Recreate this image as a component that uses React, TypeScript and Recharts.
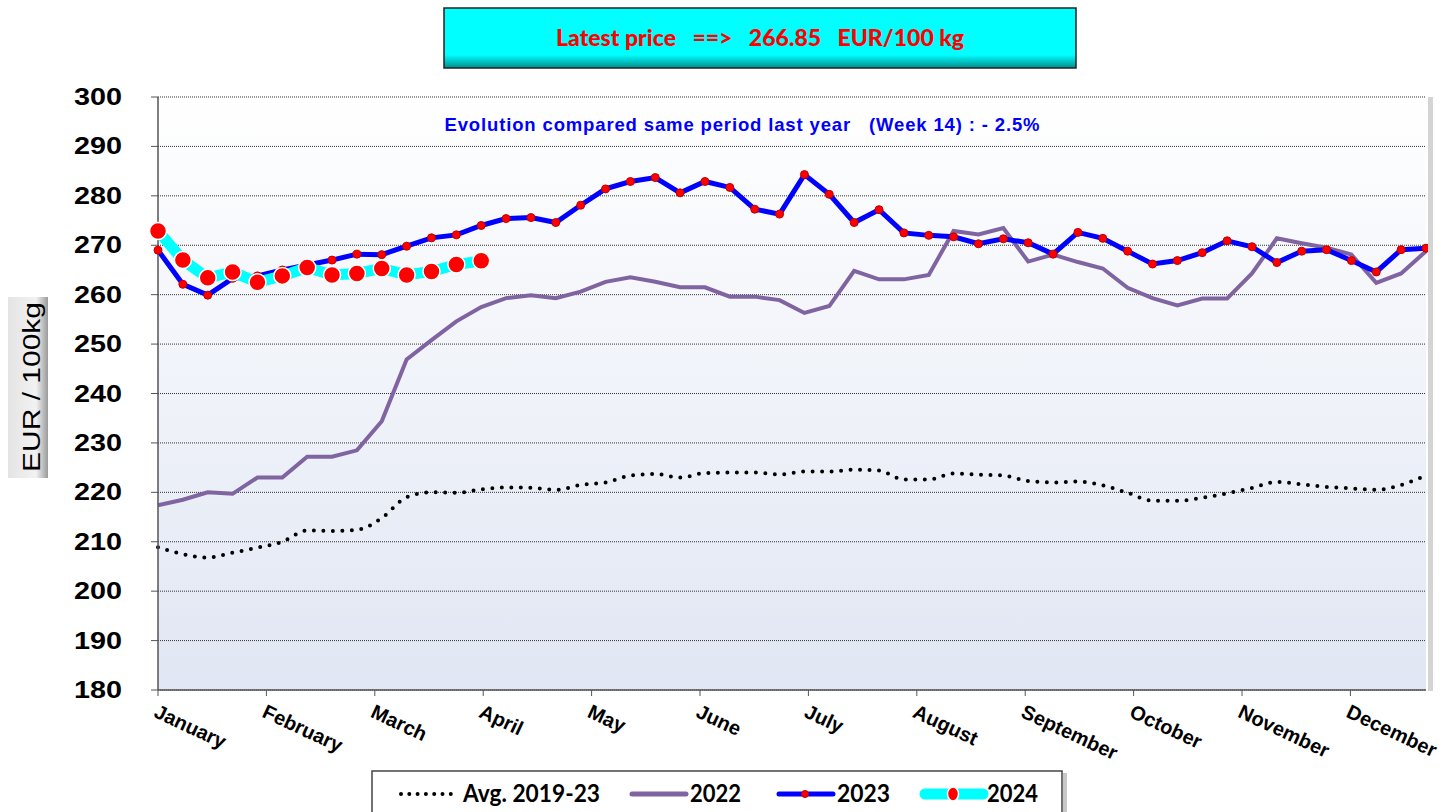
import { LineChart, Line, XAxis, YAxis, CartesianGrid } from 'recharts';

// weekly prices, EUR/100kg
const WEEKS = Array.from({ length: 52 }, (_, i) => i + 1);

const AVG_2019_23 = [
  208.9, 207.5, 206.8, 207.8, 208.8, 210.0, 212.3, 212.2, 212.4, 214.8,
  219.0, 220.0, 219.9, 220.6, 221.0, 220.9, 220.5, 221.5, 222.0, 223.4,
  223.7, 223.0, 223.9, 224.0, 224.0, 223.6, 224.2, 224.2, 224.6, 224.4,
  222.6, 222.6, 223.8, 223.6, 223.4, 222.3, 222.0, 222.2, 221.4, 219.9,
  218.3, 218.3, 218.9, 219.8, 220.9, 222.1, 221.6, 221.1, 220.8, 220.5,
  221.5, 223.4,
];

const PRICES_2022 = [
  217.4, 218.5, 220.0, 219.7, 223.0, 223.0, 227.2, 227.2, 228.5, 234.4,
  246.9, 250.8, 254.6, 257.5, 259.3, 259.9, 259.3, 260.6, 262.6, 263.5,
  262.6, 261.5, 261.5, 259.6, 259.6, 258.9, 256.3, 257.7, 264.8, 263.1,
  263.1, 264.0, 272.9, 272.2, 273.5, 266.7, 268.1, 266.6, 265.3, 261.4,
  259.3, 257.8, 259.2, 259.2, 264.3, 271.4, 270.4, 269.5, 268.1, 262.4,
  264.3, 268.8,
];

const PRICES_2023 = [
  269.0, 262.1, 259.9, 263.3, 263.8, 265.0, 266.0, 267.0, 268.2, 268.1,
  269.8, 271.5, 272.1, 274.0, 275.4, 275.6, 274.6, 278.1, 281.4, 282.9,
  283.7, 280.6, 282.9, 281.7, 277.3, 276.3, 284.3, 280.3, 274.6, 277.2,
  272.5, 272.0, 271.7, 270.3, 271.3, 270.5, 268.2, 272.6, 271.4, 268.8,
  266.2, 266.9, 268.5, 270.9, 269.7, 266.5, 268.8, 269.1, 266.9, 264.6,
  269.1, 269.4,
];

const PRICES_2024 = [
  272.9, 267.0, 263.4, 264.6, 262.5, 263.8, 265.5, 264.0, 264.3, 265.3,
  264.0, 264.7, 266.1, 266.85,
];

const MONTHS = [
  'January', 'February', 'March', 'April', 'May', 'June',
  'July', 'August', 'September', 'October', 'November', 'December',
];
const MONTH_TICKS = MONTHS.map((_, i) => 1 + i * 4.36);

const Y_TICKS = [180, 190, 200, 210, 220, 230, 240, 250, 260, 270, 280, 290, 300];

const rows = WEEKS.map((week, i) => ({
  week,
  avg: AVG_2019_23[i],
  y2022: PRICES_2022[i],
  y2023: PRICES_2023[i],
  y2024: i < PRICES_2024.length ? PRICES_2024[i] : null,
}));

const ARIAL = '"Liberation Sans", Arial, sans-serif';
const CALIBRI = 'Lato, "Open Sans", sans-serif';

function MonthTick({ x, y, payload }: any) {
  const idx = MONTH_TICKS.indexOf(payload.value);
  return (
    <g transform={`translate(${x + 1},${y + 5})`}>
      <text
        transform="rotate(25)"
        x={0}
        y={15}
        fontFamily={ARIAL}
        fontWeight="bold"
        fontSize={20}
        fill="#000"
      >
        {MONTHS[idx]}
      </text>
    </g>
  );
}

function PriceTick({ x, y, payload }: any) {
  return (
    <text
      x={x}
      y={y + 8}
      textAnchor="end"
      fontFamily={ARIAL}
      fontWeight="bold"
      fontSize={23}
      textLength={48}
      lengthAdjust="spacingAndGlyphs"
      fill="#000"
    >
      {payload.value}
    </text>
  );
}

export default function App() {
  return (
    <div style={{ position: 'absolute', left: 0, top: 0, width: 1455, height: 812, background: '#fff' }}>
      <LineChart
        width={1455}
        height={812}
        data={rows}
        margin={{ top: 97, right: 29, bottom: 62, left: 98 }}
      >
        <defs>
          <linearGradient id="plotBg" x1="0" y1="0" x2="0" y2="1">
            <stop offset="0%" stopColor="#ffffff" />
            <stop offset="100%" stopColor="#e0e6f3" />
          </linearGradient>
        </defs>
        <CartesianGrid
          vertical={false}
          stroke="#333"
          strokeDasharray="1 1"
          fill="url(#plotBg)"
          fillOpacity={1}
        />
        <XAxis
          dataKey="week"
          type="number"
          domain={[1, 52]}
          ticks={MONTH_TICKS}
          interval={0}
          height={60}
          tickSize={6}
          tick={<MonthTick />}
          axisLine={{ stroke: '#555', strokeWidth: 1.5 }}
          tickLine={{ stroke: '#555' }}
        />
        <YAxis
          domain={[180, 300]}
          ticks={Y_TICKS}
          interval={0}
          width={60}
          tickSize={7}
          tickMargin={29}
          tick={<PriceTick />}
          axisLine={{ stroke: '#555', strokeWidth: 1.5 }}
          tickLine={{ stroke: '#555' }}
        />
        <Line
          dataKey="avg"
          type="monotone"
          stroke="#000"
          strokeWidth={4}
          strokeDasharray="0 9.5"
          strokeLinecap="round"
          dot={false}
          isAnimationActive={false}
        />
        <Line
          dataKey="y2022"
          type="linear"
          stroke="#8064a2"
          strokeWidth={4}
          dot={false}
          isAnimationActive={false}
        />
        <Line
          dataKey="y2023"
          type="linear"
          stroke="#0000ff"
          strokeWidth={5}
          dot={{ r: 4, fill: '#ff0000', stroke: '#c00000', strokeWidth: 1 }}
          isAnimationActive={false}
        />
        <Line
          dataKey="y2024"
          type="linear"
          stroke="#00ffff"
          strokeWidth={11}
          dot={{ r: 8.5, fill: '#ff0000', stroke: '#ffffff', strokeWidth: 1.5 }}
          isAnimationActive={false}
        />
      </LineChart>

      <svg
        width={1455}
        height={812}
        style={{ position: 'absolute', left: 0, top: 0, pointerEvents: 'none' }}
      >
        <defs>
          <linearGradient id="titleBg" x1="0" y1="0" x2="0" y2="1">
            <stop offset="0%" stopColor="#00ffff" />
            <stop offset="78%" stopColor="#00ffff" />
            <stop offset="100%" stopColor="#008c8c" />
          </linearGradient>
          <linearGradient id="labelBg" x1="0" y1="0" x2="1" y2="0">
            <stop offset="0%" stopColor="#e4e4e4" />
            <stop offset="70%" stopColor="#f2f2f2" />
            <stop offset="100%" stopColor="#9a9a9a" />
          </linearGradient>
        </defs>

        {/* headline box */}
        <rect x={444} y={8} width={632} height={60} fill="url(#titleBg)" stroke="#222" strokeWidth={1.5} />
        <text
          x={760}
          y={46}
          textAnchor="middle"
          fontFamily={CALIBRI}
          fontWeight={900}
          fontSize={22}
          fill="#ff0000"
          textLength={408}
          lengthAdjust="spacingAndGlyphs"
          style={{ whiteSpace: 'pre' }}
        >
          {'Latest price   ==>   266.85   EUR/100 kg'}
        </text>

        <text
          x={742}
          y={131}
          textAnchor="middle"
          fontFamily={ARIAL}
          fontWeight="bold"
          fontSize={18.5}
          fill="#0000ff"
          textLength={595}
          style={{ whiteSpace: 'pre' }}
        >
          {'Evolution compared same period last year   (Week 14) : - 2.5%'}
        </text>

        {/* right edge shading of plot */}
        <rect x={1428} y={97} width={5} height={594} fill="#d4d4d4" />

        {/* y axis title */}
        <rect x={8} y={297} width={40} height={181} fill="url(#labelBg)" />
        <text
          transform="translate(40,387) rotate(-90)"
          textAnchor="middle"
          fontFamily={ARIAL}
          fontSize={23}
          fill="#000"
          textLength={170}
          lengthAdjust="spacingAndGlyphs"
        >
          EUR / 100kg
        </text>

        {/* legend */}
        <rect x={372} y={771} width={690} height={50} fill="#fff" stroke="#444" strokeWidth={1.5} />
        <rect x={1063} y={773} width={4} height={45} fill="#c8c8c8" />
        <line x1={401} y1={794} x2={451} y2={794} stroke="#000" strokeWidth={4} strokeDasharray="0 8.3" strokeLinecap="round" />
        <text x={463} y={802} fontFamily={CALIBRI} fontWeight="bold" fontSize={24} textLength={137} lengthAdjust="spacingAndGlyphs">Avg. 2019-23</text>
        <line x1={632} y1={794} x2={686} y2={794} stroke="#8064a2" strokeWidth={5} strokeLinecap="round" />
        <text x={690} y={802} fontFamily={CALIBRI} fontWeight="bold" fontSize={24} textLength={51} lengthAdjust="spacingAndGlyphs">2022</text>
        <line x1={779} y1={794} x2={833} y2={794} stroke="#0000ff" strokeWidth={5} strokeLinecap="round" />
        <circle cx={805} cy={794} r={3.5} fill="#ff0000" stroke="#c00000" strokeWidth={1} />
        <text x={837} y={802} fontFamily={CALIBRI} fontWeight="bold" fontSize={24} textLength={53} lengthAdjust="spacingAndGlyphs">2023</text>
        <line x1={925} y1={794} x2={983} y2={794} stroke="#00ffff" strokeWidth={11} strokeLinecap="round" />
        <ellipse cx={953} cy={794} rx={5.5} ry={7} fill="#ff0000" stroke="#fff" strokeWidth={1.5} />
        <text x={987} y={802} fontFamily={CALIBRI} fontWeight="bold" fontSize={24} textLength={51} lengthAdjust="spacingAndGlyphs">2024</text>
      </svg>
    </div>
  );
}
